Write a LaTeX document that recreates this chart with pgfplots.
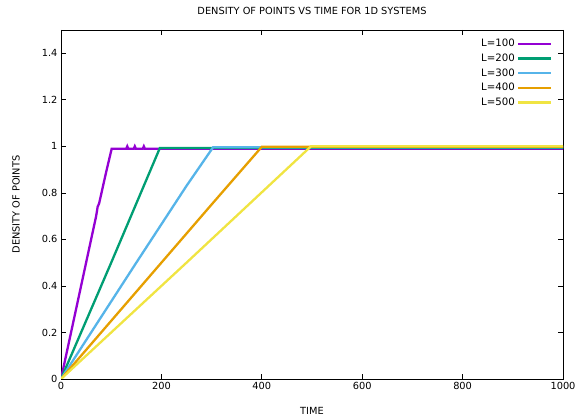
\documentclass[border=0pt]{standalone}
\usepackage{pgfplots}
\pgfplotsset{compat=1.18}
\usepackage{fontspec}
\setmainfont{DejaVu Sans}
\definecolor{c1}{HTML}{9400D3}
\definecolor{c2}{HTML}{009E73}
\definecolor{c3}{HTML}{56B4E9}
\definecolor{c4}{HTML}{E69F00}
\definecolor{c5}{HTML}{F0E442}
\begin{document}
\begin{tikzpicture}
\useasboundingbox (-61bp,-39bp) rectangle (519bp,379bp);
\begin{axis}[
  scale only axis, width=502bp, height=349bp,
  at={(0,0)}, anchor=south west,
  xmin=0, xmax=1000, ymin=0, ymax=1.5,
  xtick={0,200,...,1000}, ytick={0,0.2,0.4,0.6,0.8,1,1.2,1.4},
  tick pos=both, tick align=inside, major tick length=5bp,
  axis line style={line width=0.9bp},
  every tick/.style={black, line width=0.7bp},
  font=\fontsize{9.8bp}{12bp}\selectfont,
  /pgf/number format/assume math mode=true,
  /pgf/number format/1000 sep={},
  title={DENSITY OF POINTS VS TIME FOR 1D SYSTEMS},
  xlabel={TIME}, ylabel={DENSITY OF POINTS},
  every axis title/.style={at={(rel axis cs:0.5,1)}, anchor=center, yshift=19bp},
  every axis x label/.style={at={(rel axis cs:0.5,0)}, anchor=center, yshift=-32bp},
  every axis y label/.style={at={(rel axis cs:0,0.5)}, anchor=center, xshift=-45bp, rotate=90},
  legend plot pos=right,
  legend cell align=right,
  legend style={draw=none, fill=none, at={(0.985,0.985)}, anchor=north east, row sep=1.6bp, font=\fontsize{10.2bp}{12bp}\selectfont},
  legend image code/.code={\draw[#1, line width=2.4bp] (0cm,0cm) -- (33bp,0cm);},
]
\addplot[c1, line width=2.3bp] coordinates {(0,0) (25,0.25) (50,0.5) (70,0.70) (73,0.74) (76,0.755) (90,0.89) (101,0.99) (130,0.99) (132,1.0) (134,0.99) (145,0.99) (147,1.0) (149,0.99) (163,0.99) (165,1.0) (167,0.99) (1000,0.99)};
\addlegendentry{L=100}
\addplot[c2, line width=2.3bp] coordinates {(0,0) (100,0.5) (197,0.993) (1000,0.993)};
\addlegendentry{L=200}
\addplot[c3, line width=2.3bp] coordinates {(0,0) (150,0.5) (250,0.83) (303,0.996) (1000,0.996)};
\addlegendentry{L=300}
\addplot[c4, line width=2.3bp] coordinates {(0,0) (200,0.5) (300,0.75) (400,0.998) (1000,0.998)};
\addlegendentry{L=400}
\addplot[c5, line width=2.3bp] coordinates {(0,0) (250,0.5) (498,1.0) (1000,1.0)};
\addlegendentry{L=500}
\end{axis}
\end{tikzpicture}
\end{document}
